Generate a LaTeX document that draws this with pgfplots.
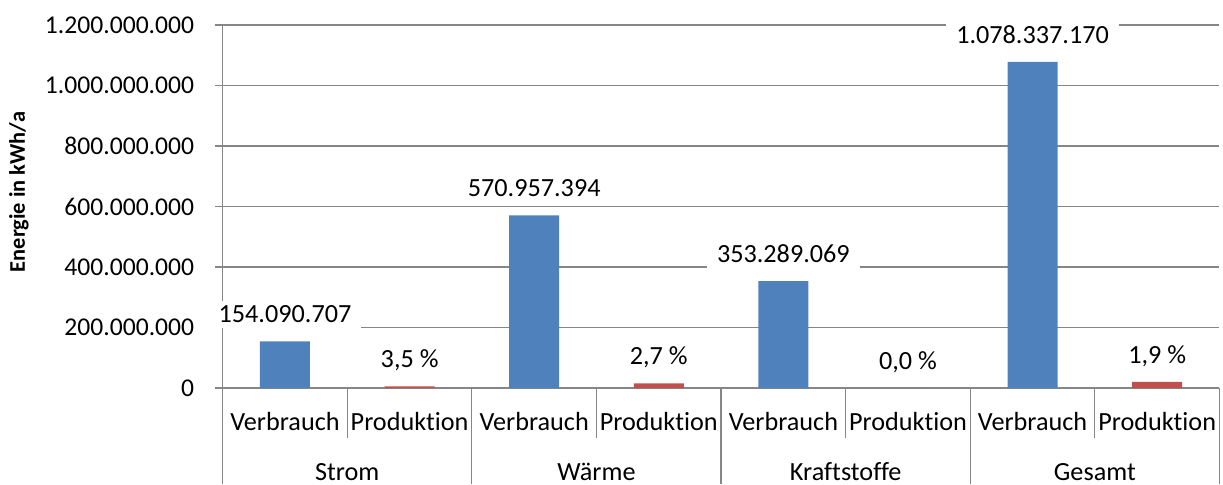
\documentclass[border=0pt]{standalone}
\usepackage{pgfplots}
\pgfplotsset{compat=1.18}
\usepackage{fontspec}
\setmainfont{Carlito}[Ligatures={NoCommon,NoRare}]
\definecolor{gridgray}{RGB}{134,134,134}
\definecolor{barblue}{RGB}{79,129,189}
\definecolor{barred}{RGB}{192,80,77}
\begin{document}
\begin{tikzpicture}[font=\fontsize{13.1}{15.5}\selectfont]
\useasboundingbox (-111.35pt,-48pt) rectangle (500.15pt,194pt);
\begin{axis}[
 at={(0,0)}, anchor=south west,
 width=498.4pt, height=181.5pt, scale only axis,
 xmin=0.5, xmax=8.5, ymin=0, ymax=1200000000,
 axis lines*=left,
 axis line style={gridgray, line width=0.6pt},
 ytick={0,200000000,400000000,600000000,800000000,1000000000,1200000000},
 ymajorgrids, major grid style={gridgray, line width=0.6pt},
 tick align=outside, major tick length=3.75pt,
 ytick style={gridgray, line width=0.6pt},
 scaled y ticks=false,
 yticklabel style={font=\fontsize{12.8}{15}\selectfont, xshift=-7pt, text=black, /pgf/number format/.cd, fixed, precision=0, 1000 sep={.}, assume math mode=true},
 xtick={1,2,3,4,5,6,7,8},
 xticklabels={Verbrauch,Produktion,Verbrauch,Produktion,Verbrauch,Produktion,Verbrauch,Produktion},
 xtick style={draw=none},
 xticklabel style={text=black, yshift=-5pt},
 clip=false,
 every node near coord/.append style={fill=white, inner xsep=5pt, inner ysep=2.5pt, anchor=base, yshift=9.2pt, text=black},
]
\addplot[ybar, bar width=25pt, bar shift=0pt, fill=barblue, draw=none, nodes near coords, point meta=explicit symbolic]
 coordinates {(1,154090707)[154.090.707] (3,570957394)[570.957.394] (5,353289069)[353.289.069] (7,1078337170)[1.078.337.170]};
\addplot[ybar, bar width=25pt, bar shift=0pt, fill=barred, draw=none, nodes near coords, point meta=explicit symbolic]
 coordinates {(2,5393175)[{3,5~\%}] (4,15415850)[{2,7~\%}] (6,0)[{0,0~\%}] (8,20488406)[{1,9~\%}]};
\draw[gridgray, line width=0.6pt] (axis cs:1.5,0) -- ([yshift=-25pt]axis cs:1.5,0);
\draw[gridgray, line width=0.6pt] (axis cs:3.5,0) -- ([yshift=-25pt]axis cs:3.5,0);
\draw[gridgray, line width=0.6pt] (axis cs:5.5,0) -- ([yshift=-25pt]axis cs:5.5,0);
\draw[gridgray, line width=0.6pt] (axis cs:7.5,0) -- ([yshift=-25pt]axis cs:7.5,0);
\draw[gridgray, line width=0.6pt] (axis cs:0.5,0) -- ([yshift=-48pt]axis cs:0.5,0);
\draw[gridgray, line width=0.6pt] (axis cs:2.5,0) -- ([yshift=-48pt]axis cs:2.5,0);
\draw[gridgray, line width=0.6pt] (axis cs:4.5,0) -- ([yshift=-48pt]axis cs:4.5,0);
\draw[gridgray, line width=0.6pt] (axis cs:6.5,0) -- ([yshift=-48pt]axis cs:6.5,0);
\draw[gridgray, line width=0.6pt] (axis cs:8.5,0) -- ([yshift=-48pt]axis cs:8.5,0);
\node[anchor=base, inner sep=0pt] at (axis cs:1.5,0) [yshift=-46pt] {Strom};
\node[anchor=base, inner sep=0pt] at (axis cs:3.5,0) [yshift=-46pt] {Wärme};
\node[anchor=base, inner sep=0pt] at (axis cs:5.5,0) [yshift=-46pt] {Kraftstoffe};
\node[anchor=base, inner sep=0pt] at (axis cs:7.5,0) [yshift=-46pt] {Gesamt};
\end{axis}
\node[rotate=90, font=\fontsize{11.2}{13}\selectfont\bfseries] at (-101.85pt,98pt) {Energie in kWh/a};
\end{tikzpicture}
\end{document}
